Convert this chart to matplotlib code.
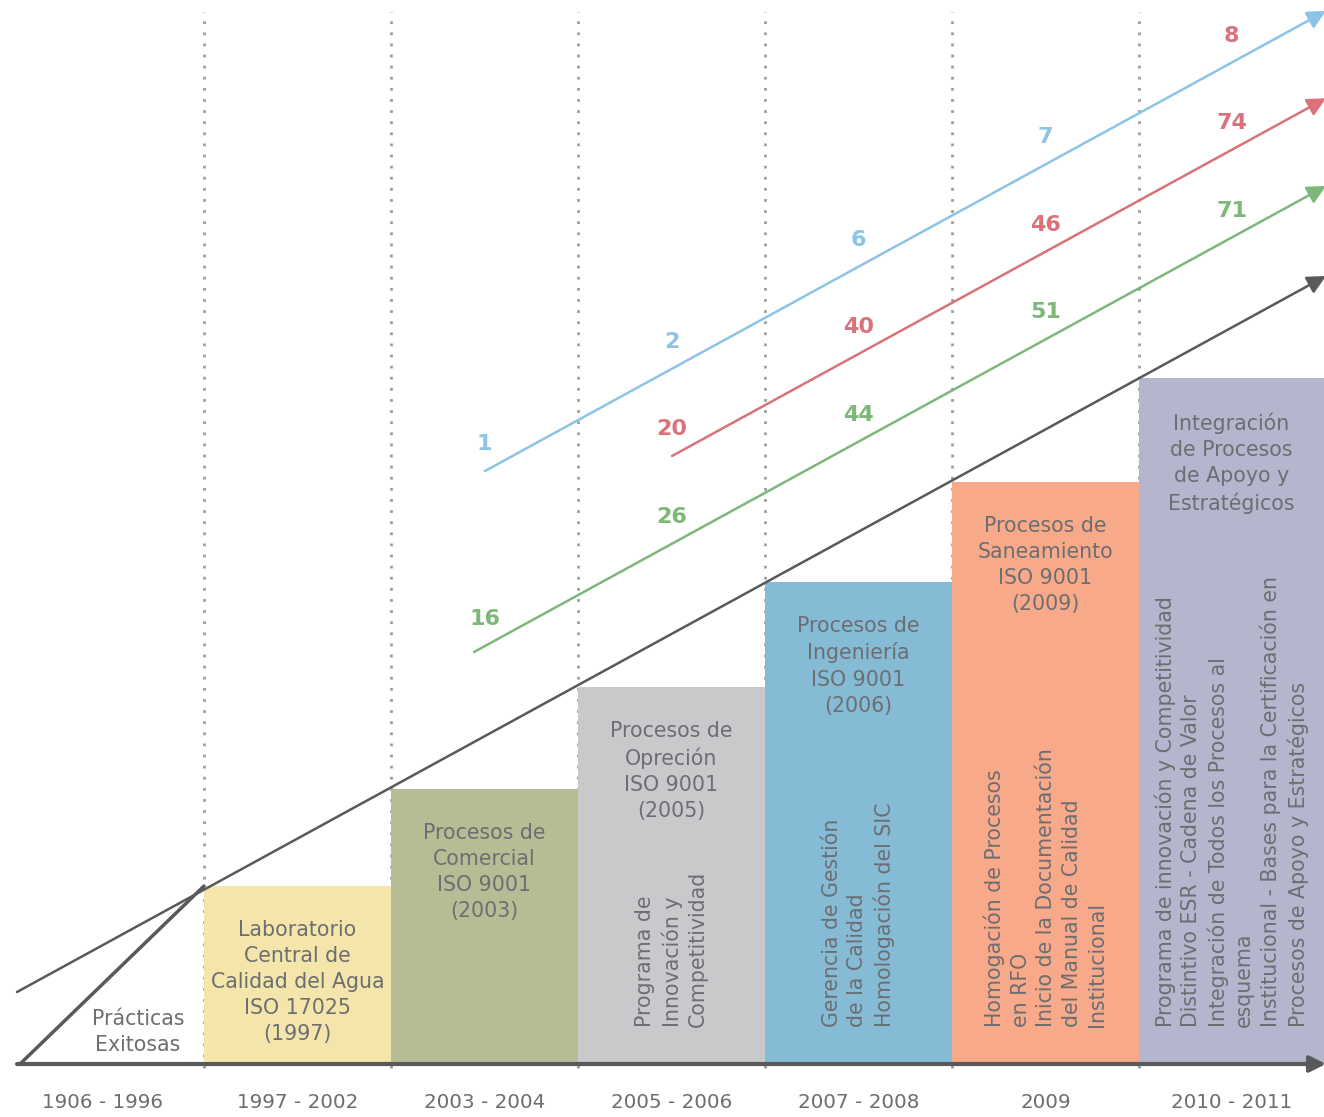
import matplotlib.pyplot as plt
import numpy as np

plt.rcParams['font.family'] = ['DejaVu Sans']

# column edges (timeline periods), pixel-like units
edges = [0, 204, 391, 578, 765, 952, 1139, 1324]
periods = ['1906 - 1996', '1997 - 2002', '2003 - 2004', '2005 - 2006',
           '2007 - 2008', '2009', '2010 - 2011']
base = 53

# certification level bars (one per period after the first)
bar_heights = [178, 275, 377, 482, 582, 686]
bar_colors = ['#F4E6AB', '#B6BD95', '#C8C9CB', '#85BBD5', '#F7A98A', '#B5B5CD']
bar_titles = [
    'Laboratorio\nCentral de\nCalidad del Agua\nISO 17025\n(1997)',
    'Procesos de\nComercial\nISO 9001\n(2003)',
    'Procesos de\nOpreción\nISO 9001\n(2005)',
    'Procesos de\nIngeniería\nISO 9001\n(2006)',
    'Procesos de\nSaneamiento\nISO 9001\n(2009)',
    'Integración\nde Procesos\nde Apoyo y\nEstratégicos',
]
bar_notes = [
    '',
    '',
    'Programa de\nInnovación y\nCompetitividad',
    'Gerencia de Gestión\nde la Calidad\nHomologación del SIC',
    'Homogación de Procesos\nen RFO\nInicio de la Documentación\ndel Manual de Calidad\nInstitucional',
    'Programa de innovación y Competitividad\nDistintivo ESR - Cadena de Valor\n'
    'Integración de Todos los Procesos al\nesquema\n'
    'Institucional - Bases para la Certificación en\nProcesos de Apoyo y Estratégicos',
]

# trend arrows: counts per period (start column index -> last column)
blue_vals = [1, 2, 6, 7, 8]
red_vals = [20, 40, 46, 74]
green_vals = [16, 26, 44, 51, 71]

slope = 0.547
TXT = '#6D6E71'
DARK = '#58595B'
FS = 14.8

fig = plt.figure(figsize=(13.24, 11.17), dpi=100)
ax = fig.add_axes([0, 0, 1, 1])
ax.set_xlim(0, 1324)
ax.set_ylim(0, 1117)
ax.axis('off')

centers = [(edges[i] + edges[i + 1]) / 2 for i in range(len(edges) - 1)]

# dotted separators
for x in edges[1:-1]:
    ax.plot([x, x], [49, 1105], color='#9D9D9D', lw=2, ls=(0, (1, 3)), zorder=1)

# bars
lefts = edges[1:-1]
widths = np.diff(edges[1:])
ax.bar(lefts, bar_heights, width=widths, bottom=base, align='edge',
       color=bar_colors, zorder=2)

for i, (t, n, h) in enumerate(zip(bar_titles, bar_notes, bar_heights)):
    cx = centers[i + 1]
    ax.text(cx, base + h - 34, t, ha='center', va='top', fontsize=FS,
            color=TXT, linespacing=1.38, zorder=5)
    if n:
        ax.text(cx, base + 37, n, ha='center', va='bottom', rotation=90,
                multialignment='left', fontsize=FS, color=TXT,
                linespacing=1.34, zorder=5)

ax.text(centers[0] + 36, 85, 'Prácticas\nExitosas', ha='center', va='center',
        fontsize=FS, color=TXT, linespacing=1.38, zorder=5)

for cx, p in zip(centers, periods):
    ax.text(cx, 15, p, ha='center', va='center', fontsize=14.3, color=TXT)

# baseline axis with arrow
ax.annotate('', xy=(1326, base), xytext=(17, base), annotation_clip=False,
            arrowprops=dict(arrowstyle='-|>', color=DARK, lw=3,
                            mutation_scale=24, shrinkA=0, shrinkB=0), zorder=6)
# practicas triangle edge
ax.plot([20, edges[1]], [base, base + bar_heights[0]], color=DARK, lw=2.5,
        zorder=6, solid_capstyle='round')


def trend(x0, y0, color, lw=1.8):
    y1 = y0 + slope * (1326 - x0)
    ax.annotate('', xy=(1326, y1), xytext=(x0, y0), annotation_clip=False,
                arrowprops=dict(arrowstyle='-|>', color=color, lw=lw,
                                mutation_scale=28, shrinkA=0, shrinkB=0),
                zorder=7)
    return lambda x: y0 + slope * (x - x0)


gray_line = trend(17, 125, DARK, lw=1.8)
green_line = trend(474, 465, '#7DB879')
red_line = trend(672, 661, '#D9727A')
blue_line = trend(485, 646, '#8DC3E5')


def labels(vals, start_col, line, color, colors=None):
    for k, v in enumerate(vals):
        cx = centers[start_col + k]
        c = colors[k] if colors else color
        ax.text(cx, line(cx) + 27, str(v), ha='center', va='center',
                fontsize=16, fontweight='bold', color=c, zorder=8)


labels(blue_vals, 2, blue_line, '#8DC3E5',
       colors=['#8DC3E5'] * 4 + ['#D9727A'])
labels(red_vals, 3, red_line, '#D9727A')
labels(green_vals, 2, green_line, '#7DB879')

fig.savefig('out.png', dpi=100, facecolor='white')
